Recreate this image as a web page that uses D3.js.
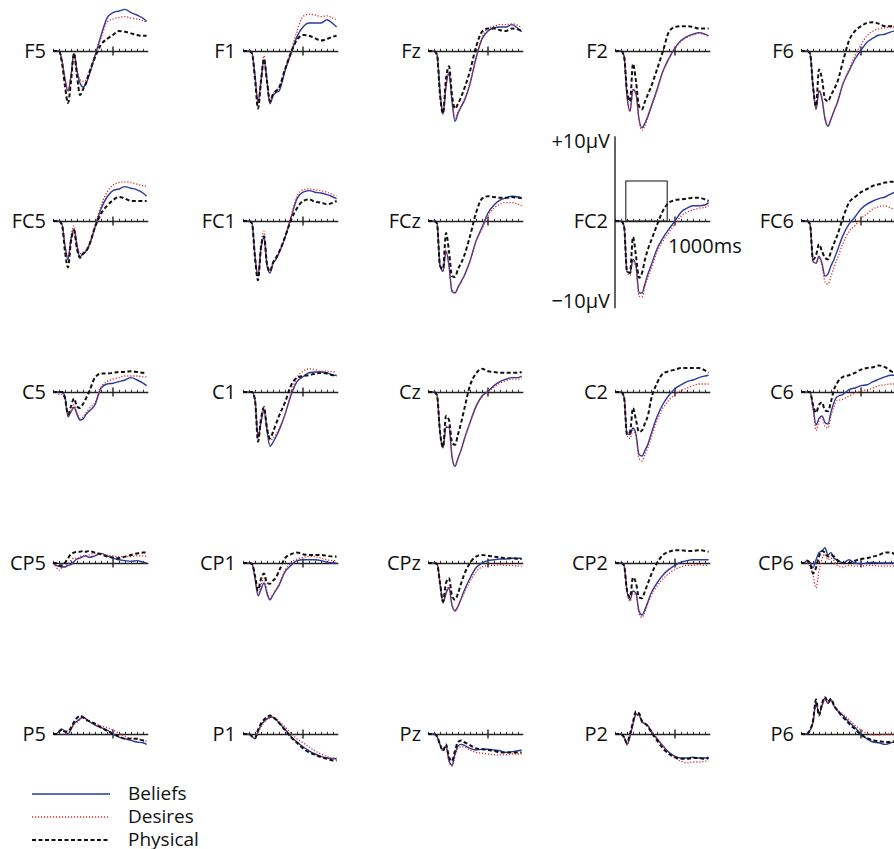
<!DOCTYPE html>
<html>
<head>
<meta charset="utf-8">
<script src="https://cdn.jsdelivr.net/npm/d3@7"></script>
<style>
  body { margin: 0; background: #fff; }
  text { font-family: "Open Sans", sans-serif; font-size: 20px; fill: #111; }
  .legend text { font-size: 19px; }
</style>
</head>
<body>
<svg id="chart" width="894" height="849"></svg>
<script>
// electrode names, row by row
const channels = ["F5","F1","Fz","F2","F6",
                  "FC5","FC1","FCz","FC2","FC6",
                  "C5","C1","Cz","C2","C6",
                  "CP5","CP1","CPz","CP2","CP6",
                  "P5","P1","Pz","P2","P6"];

// sample times (ms)
const times = [0,50,100,150,200,250,300,350,400,450,500,550,600,700,800,900,1000,1100,1200,1300,1400,1500,1560];

// amplitudes in microvolts, one row per channel
const beliefs = [
  [0,0,0,-1.2,-3.5,-5,-3.1,-0.3,-2.5,-4,-4.5,-4.1,-3.1,-0.6,1.9,4.1,4.8,5,5.2,4.8,4.5,4.1,3.7],
  [0,0,0,-0.3,-3.1,-6.5,-3.8,-1.1,-3.8,-6.6,-5.6,-5.2,-5,-2.5,-0.3,1.8,3,3.5,3.5,3.5,3.9,3.4,3],
  [0,0,0,-0.4,-5,-7.9,-4.4,-2.8,-6.3,-8.8,-7.8,-7,-6.3,-4.1,-0.9,1.5,2.5,2.9,3,3,3.3,2.8,2.4],
  [0,0,0,-0.6,-5.6,-7.5,-4.8,-5.3,-8.5,-9.6,-9,-8.1,-7,-4.8,-2.5,-0.9,0.4,1.3,1.8,2.1,2.3,2.1,1.9],
  [0,0,0,-0.3,-4.4,-7.3,-5,-6,-8.5,-9.4,-8.5,-7.5,-6.6,-4.1,-2.5,-1,0.1,1.1,1.6,2,2.1,2.4,2.5],
  [0,0,0,-0.4,-3.1,-4.8,-2.3,-1,-3.1,-4.5,-4.1,-3.8,-3.1,-0.8,1.5,3,3.8,4,4.3,4.1,3.9,3.5,3.1],
  [0,0,0,-0.3,-4.4,-6.9,-3.5,-2,-5.6,-6.5,-5.3,-4.8,-4,-2.1,0.4,2.8,3.6,3.8,3.6,3.5,3.3,3,2.8],
  [0,0,0,-0.3,-5.6,-6.3,-3.8,-5.6,-8.8,-9,-8.3,-7.6,-6.9,-5,-2.5,-0.8,1,2,2.6,2.9,3.1,3,2.8],
  [0,0,0,-0.6,-6.3,-6.5,-4.8,-5.6,-9,-9,-7.8,-6.6,-5.6,-3.5,-2.1,-1,0,1.1,1.6,1.9,1.9,2,2.3],
  [0,0,0,-0.4,-5,-5.3,-4.4,-5.3,-6.9,-6.6,-5.6,-4.8,-3.8,-1.8,-0.4,0.5,1.5,2.1,2.5,2.8,3,3.4,3.6],
  [0,0,0,0,-0.6,-3.1,-2.5,-1.9,-2.8,-3.5,-3.4,-2.8,-2.4,-1.6,0.5,1,1.1,1.3,1.5,1.8,1.5,1.1,0.8],
  [0,0,0,0,-1,-5.6,-3.8,-2.3,-4.8,-6.8,-6.3,-5.6,-4.8,-2.8,-0.4,1.3,1.9,2.4,2.5,2.5,2.4,2.1,2.1],
  [0,0,0,-0.4,-5,-7,-4.4,-4.4,-8.1,-9.3,-8.3,-7.3,-6,-3.8,-1.8,-0.5,0.1,0.8,1.3,1.6,1.8,1.8,2],
  [0,0,0,-0.6,-5.3,-5.3,-4.5,-5.3,-7.8,-8,-7.3,-6.5,-5.3,-3.1,-1.5,-0.4,0.4,0.9,1.3,1.5,1.8,2,2.1],
  [0,0,0,0,-1.9,-4.1,-3.3,-3,-3.8,-4,-2.5,-1.3,-0.6,-0.3,0.3,0.5,0.8,0.9,1.3,1.6,1.9,2.1,2.1],
  [0,-0.3,-0.4,-0.5,-0.5,-0.3,-0.2,0.2,0.5,0.6,0.8,0.9,0.7,0.9,1.2,0.9,0.6,0.4,0.3,0.2,0.3,0.1,0],
  [0,0,0,-0.1,-1.9,-4.1,-3.3,-2.5,-3.8,-4.6,-4,-3.4,-2.8,-1.1,-0.3,0.3,0.4,0.4,0.4,0.3,0.1,0,0],
  [0,0,0,-0.1,-2.5,-5,-3.8,-3.1,-5.3,-6,-5.4,-4.5,-3.5,-1.9,-0.6,0,0.3,0.4,0.5,0.5,0.6,0.6,0.6],
  [0,0,0,-0.3,-3.5,-4.6,-3.5,-3.8,-6,-6.5,-5.8,-4.8,-3.8,-2.5,-1.5,-0.8,-0.3,0.1,0.3,0.4,0.4,0.4,0.4],
  [0,0,0.3,0,-0.6,0.4,1.3,1.5,1.9,1,1.3,0.6,0.4,0,0.4,0,-0.1,0,0.1,0,0,0,0],
  [0,0,0.3,0.6,0.3,0,0.6,1.3,1.6,1.9,2.1,1.9,1.6,1.1,0.8,0.5,0,-0.4,-0.6,-0.8,-1,-1.1,-1.3],
  [0,0,0,-0.3,-0.6,0.3,1.1,1.6,1.9,2.1,2.1,1.8,1.4,0.6,-0.3,-1,-1.6,-2.1,-2.5,-2.8,-3,-3.1,-3.1],
  [0,0,0,-0.3,-1.3,-2,-1.5,-3.3,-3.9,-2.5,-1.5,-1.3,-1.4,-1.8,-2,-1.9,-1.9,-2,-2.1,-2.3,-2.2,-2.1,-2],
  [0,0,0,-0.4,-1.3,-0.3,1.3,2.5,2.4,1.5,1.3,1,0.4,-0.6,-1.5,-2.3,-2.8,-3,-3,-2.9,-3,-3,-2.9],
  [0,0,0,0.5,1.5,4,2.5,3.6,4.5,3.8,4.3,3.5,3,2.3,1.5,0.8,0,-0.6,-1,-1.1,-1.3,-1.1,-1]
];

const desires = [
  [0,0,0,-1.2,-3.5,-5,-3,-0.2,-2.3,-3.6,-3.8,-3.6,-2.8,-0.4,1.6,3.6,4,4.2,4.3,4.1,4,3.8,3.6],
  [0,0,0,-0.3,-3,-6.3,-3.3,-0.6,-3.5,-6.3,-5.4,-5,-4.6,-2.2,0,2.5,4.3,4.6,4.5,4.3,4.4,4.1,3.9],
  [0,0,0,-0.4,-5,-7.6,-4.2,-2.6,-6,-8.4,-7.6,-6.9,-6.1,-4,-0.8,1.7,2.8,3.1,3.3,3.3,3.4,3.2,2.9],
  [0,0,0,-0.6,-5.6,-7.6,-4.9,-5.4,-8.7,-9.9,-9.3,-8.3,-7.2,-5,-2.6,-1,0.3,1.2,1.7,2,2.2,2,1.8],
  [0,0,0,-0.3,-4.4,-7.1,-4.9,-5.8,-8.3,-9.3,-8.5,-7.5,-6.5,-4,-2.3,-0.6,0.8,1.9,2.5,2.8,2.9,3,3],
  [0,0,0,-0.4,-3,-4.5,-1.9,-0.6,-2.8,-4.1,-3.9,-3.6,-2.9,-0.5,1.9,3.6,4.5,4.8,4.9,4.8,4.6,4.4,4.3],
  [0,0,0,-0.3,-4.3,-6.7,-2.9,-1.3,-5.1,-6.3,-5.2,-4.7,-3.9,-1.9,0.6,3.1,3.9,4,3.9,3.8,3.6,3.3,3.1],
  [0,0,0,-0.3,-5.5,-6.2,-3.6,-5.4,-8.6,-8.9,-8.3,-7.6,-6.9,-5.1,-2.6,-1,0.7,1.6,2.1,2.3,2.3,2.1,1.9],
  [0,0,0,-0.6,-6.4,-6.8,-5,-5.8,-9.4,-9.5,-8.2,-7,-6,-3.9,-2.5,-1.4,-0.4,0.6,1.1,1.4,1.6,1.7,1.9],
  [0,0,0,-0.4,-5.1,-5.3,-4.5,-5.6,-7.6,-7.9,-6.9,-5.8,-4.8,-2.8,-1.3,-0.6,0.3,0.9,1.5,1.8,1.9,1.6,1.5],
  [0,0,-0.3,-0.3,-0.8,-3,-2.4,-1.6,-2.6,-3.3,-3.1,-2.6,-2.1,-1.3,0.6,1.3,1.6,1.8,2,2,2,1.9,1.9],
  [0,0,0,0,-1,-5.5,-3.4,-1.8,-4.1,-6,-5.8,-5.3,-4.6,-2.8,-0.1,1.8,2.6,2.9,2.8,2.6,2.6,2.5,2.5],
  [0,0,0,-0.4,-5,-6.9,-4.3,-4.3,-8,-9.2,-8.3,-7.3,-6.1,-3.9,-1.9,-0.6,0,0.6,1.1,1.4,1.6,1.6,1.8],
  [0,0,0,-0.6,-5.5,-5.8,-4.8,-5.6,-8.3,-8.6,-7.8,-6.9,-5.8,-3.6,-2,-1,-0.3,0.2,0.5,0.8,1,1,1],
  [0,0,0,0,-2,-4.8,-3.6,-3.1,-4.3,-4.5,-3,-1.8,-1.1,-0.9,-0.5,-0.1,0.1,0.3,0.5,0.8,0.9,1,1],
  [0,-0.5,-0.9,-0.6,-0.4,-0.1,0.3,0.6,0.5,0.8,0.9,0.8,1,1.2,1.1,1,0.9,0.8,0.8,0.8,0.9,0.9,0.8],
  [0,0,0,-0.1,-1.8,-3.9,-2.8,-1.9,-3.5,-4.4,-3.9,-3.3,-2.6,-0.9,0,0.5,0.7,0.8,0.8,0.6,0.4,0.3,0.3],
  [0,0,0,-0.1,-2.5,-4.9,-3.6,-3,-5.1,-5.9,-5.4,-4.6,-3.8,-2.3,-1.1,-0.5,-0.3,-0.3,-0.2,-0.3,-0.3,-0.4,-0.4],
  [0,0,0,-0.3,-3.6,-4.8,-3.8,-4,-6.3,-6.8,-6.1,-5.1,-4.1,-2.9,-2,-1.3,-0.8,-0.5,-0.3,-0.3,-0.2,-0.3,-0.3],
  [0,0,0,-0.5,-1.5,-3.1,-1,0.5,1.1,0.4,0.6,0.3,-0.3,-0.5,-0.3,-0.4,-0.4,-0.3,-0.3,-0.4,-0.4,-0.4,-0.4],
  [0,0,0.3,0.5,0.1,-0.1,0.5,1.1,1.4,1.8,2,1.8,1.6,1.3,1,0.8,0.5,0.1,-0.3,-0.5,-0.6,-0.8,-0.9],
  [0,0,0,-0.3,-0.6,0.1,0.9,1.4,1.8,2,2.1,1.9,1.6,0.9,0.1,-0.6,-1.1,-1.6,-2.1,-2.5,-2.8,-3,-3],
  [0,0,0,-0.3,-1.4,-2.1,-1.6,-3.5,-4,-2.8,-1.8,-1.6,-1.6,-2,-2.3,-2.4,-2.5,-2.6,-2.6,-2.6,-2.5,-2.5,-2.5],
  [0,0,0,-0.4,-1.4,-0.4,1.1,2.3,2.3,1.5,1.3,1,0.5,-0.5,-1.5,-2.3,-3,-3.4,-3.6,-3.5,-3.5,-3.4,-3.4],
  [0,0,0,0.4,1.4,3.8,2.5,3.4,4.3,3.8,4.1,3.6,3.1,2.5,1.8,1.1,0.5,0.1,-0.1,-0.1,0,0,0]
];

const physical = [
  [0,0,0,-1.5,-4.4,-6.5,-3.8,-0.3,-3.1,-5.5,-4.8,-4,-2.8,-0.8,0.8,1.5,2,2.5,2.4,2.2,2,1.9,1.9],
  [0,0,0,-0.3,-3.5,-7.2,-3.8,-1,-3.8,-6.3,-5.4,-5,-4.6,-2.3,-0.2,1.4,2,1.9,1.6,1.3,1.5,1.8,1.9],
  [0,0,0,-0.5,-5.5,-7.8,-3.5,-1.9,-5.5,-7.2,-6.6,-5.8,-4.8,-2.5,0.5,2.4,2.8,2.8,2.6,2.5,2.8,2.7,2.5],
  [0,0,0,-0.6,-5,-6.3,-1.6,-3.8,-6.9,-7.3,-6.3,-5.4,-4.5,-2.3,0,2.4,3,3.1,3.1,3,2.8,2.8,2.8],
  [0,0,0,-0.3,-4.4,-6.9,-2.3,-3.5,-6,-6.3,-5.5,-4.8,-4,-1.3,1.3,2.5,3.1,3.5,3.6,3.4,3.1,3.1,3.1],
  [0,0,0,-0.5,-3.8,-5.8,-2.5,-1.2,-3.5,-4.6,-4.1,-3.8,-3.1,-0.8,0.9,1.9,2.6,3,2.8,2.5,2.5,2.5,2.5],
  [0,0,0,-0.3,-4.6,-7.4,-3.3,-1.9,-5.4,-6.3,-5.2,-4.6,-3.9,-2,0.1,1.6,2.5,2.7,2.4,2.3,2.1,2.3,2.5],
  [0,0,0,-0.3,-5.6,-6,-1.5,-3.8,-6.9,-7,-6,-5.3,-4.4,-1.9,1,2.8,3.1,3,2.9,2.9,3,2.9,2.9],
  [0,0,0,-0.6,-6.3,-6.5,-2,-4.4,-7.1,-6.5,-4.8,-3.5,-2.5,-0.5,1.3,2.3,2.6,2.7,2.8,2.9,2.9,2.7,2.5],
  [0,0,0,-0.4,-4.8,-4.3,-2.9,-3.8,-4.6,-4.8,-3.8,-2.8,-1.9,0.4,2.3,3,3.6,4,4.4,4.6,4.8,4.9,4.9],
  [0,0,0,0,-0.8,-2.8,-1.8,-0.8,-1.8,-2,-1.5,-0.8,0,1.8,2.3,2.3,2.4,2.5,2.5,2.6,2.5,2.4,2.3],
  [0,0,0,0,-1,-6.2,-3.4,-1.9,-4.6,-5.8,-5,-4,-3,-1.3,0.8,1.8,2,2.1,2.3,2.4,2.3,2.1,2],
  [0,0,0,-0.4,-5,-6.9,-3,-3.5,-6.3,-6.6,-5.3,-3.9,-2.3,0.8,2.3,2.9,2.6,2.5,2.4,2.4,2.4,2.4,2.5],
  [0,0,0,-0.6,-5.3,-5,-2,-3.5,-5,-4.8,-3.9,-2.9,-1,1.1,2.3,2.6,2.8,3,3,3,3,2.7,2.4],
  [0,0,0,0,-1.6,-2.6,-1.6,-1.3,-2.3,-2.4,-1.2,0.3,1.1,1.9,2.1,2.4,2.8,3,3.1,3.3,3.1,2.6,2.4],
  [0,0,-0.3,-0.3,0,0.6,1.1,1.3,1.4,1.4,1.5,1.4,1.5,1.3,1.1,0.8,0.7,0.6,0.8,1,1.2,1.3,1.3],
  [0,0,0,-0.1,-1.6,-3.4,-2,-1.3,-2.5,-2.6,-2.2,-1.8,-1,0.6,1.1,1.3,1.1,1,1,1,0.9,0.8,0.8],
  [0,0,0,-0.1,-2.5,-4.8,-2.5,-1.9,-4.1,-4.6,-3.8,-2.6,-1.5,0,0.8,1,0.9,0.8,0.7,0.6,0.6,0.5,0.5],
  [0,0,0,-0.3,-3.4,-4.3,-1.8,-2.5,-4.3,-4.4,-3.5,-2.5,-1.5,0,1,1.4,1.6,1.6,1.5,1.5,1.6,1.5,1.4],
  [0,0,0.3,0,-1.3,-0.6,0.8,1.5,1.3,0.8,1,0.8,0.4,0,0,0.3,0.5,0.6,0.8,1,1.3,1.3,1.1],
  [0,0,0.3,0.6,0.3,0.3,0.8,1.5,2,2.3,2.1,1.8,1.6,1.3,0.8,0.4,0,-0.3,-0.6,-0.6,-0.6,-0.8,-0.8],
  [0,0,0,-0.3,-0.5,0.5,1.3,1.8,2.1,2.3,2.1,1.8,1.4,0.5,-0.4,-1.1,-1.8,-2.3,-2.6,-2.9,-3.1,-3.3,-3.3],
  [0,0,0,-0.3,-1.3,-2.1,-1.3,-2.9,-3.4,-2.1,-1,-0.8,-1,-1.4,-1.8,-1.9,-2,-2.1,-2.3,-2.3,-2.3,-2.3,-2.3],
  [0,0,0,-0.4,-1.1,0,1.5,2.8,2.6,1.6,1.3,0.9,0.3,-0.8,-1.8,-2.5,-2.9,-3.1,-3.1,-3,-3,-3.1,-3],
  [0,0,0,0.5,1.6,4.3,2.3,3.8,4.6,4,4.4,3.6,3,2.1,1.3,0.6,-0.1,-0.5,-0.8,-0.9,-1,-1,-0.9]
];

const conditions = ["Beliefs", "Desires", "Physical"];
const minorTicks = [0,100,200,300,400,500,600,700,800,900,1100,1200,1300,1400,1500];
const majorTick = 1000;
const scaleLimits = [10, -10];      // microvolt calibration bar
const windowBox = [180, 870, 5];    // ms start, ms end, microvolts
const scaleChannel = "FC2";

// layout
const colX = [53, 243, 428, 615, 801];
const rowY = [51, 221, 392, 563, 734];

const styles = [
  { stroke: "#2b3a9c", width: 1.4, dash: null },
  { stroke: "#dd2b2b", width: 1.3, dash: "1.2,1.8" },
  { stroke: "#111",    width: 2,   dash: "4,2.5" }
];

const svg = d3.select("#chart");
const x = d3.scaleLinear().domain([0, 1580]).range([0, 94.8]);
const y = d3.scaleLinear().domain([-10, 10]).range([80, -80]);

const line = d3.line()
  .x((d, i) => x(times[i]))
  .y(d => y(d))
  .curve(d3.curveMonotoneX);

channels.forEach((name, k) => {
  const g = svg.append("g")
    .attr("transform", `translate(${colX[k % 5]},${rowY[Math.floor(k / 5)]})`);

  g.append("text")
    .attr("x", -7).attr("y", 7)
    .attr("text-anchor", "end")
    .text(name);

  const ax = g.append("g")
    .call(d3.axisBottom(x).tickValues(minorTicks).tickSize(-2.2).tickSizeOuter(0).tickFormat(""));
  ax.select(".domain").attr("stroke", "#222").attr("stroke-width", 1.3);
  ax.selectAll(".tick line").attr("stroke", "#333").attr("stroke-width", 1);

  g.append("line")
    .attr("x1", x(majorTick)).attr("x2", x(majorTick))
    .attr("y1", -4.5).attr("y2", 4.5)
    .attr("stroke", "#222").attr("stroke-width", 1.4);

  if (name === scaleChannel) {
    g.append("line")
      .attr("x1", 0).attr("x2", 0)
      .attr("y1", y(scaleLimits[0] + 0.6)).attr("y2", y(scaleLimits[1] - 0.9))
      .attr("stroke", "#222").attr("stroke-width", 1.4);
    g.append("text").attr("x", -5).attr("y", y(scaleLimits[0]) + 7)
      .attr("text-anchor", "end").text("+10\u00b5V");
    g.append("text").attr("x", -5).attr("y", y(scaleLimits[1]) + 7)
      .attr("text-anchor", "end").text("\u221210\u00b5V");
    g.append("rect")
      .attr("x", x(windowBox[0])).attr("y", y(windowBox[2]))
      .attr("width", x(windowBox[1]) - x(windowBox[0]))
      .attr("height", y(0) - y(windowBox[2]))
      .attr("fill", "none").attr("stroke", "#222").attr("stroke-width", 1.1);
    g.append("text").attr("x", x(majorTick) - 7).attr("y", 32).text("1000ms");
  }

  [beliefs, desires, physical].forEach((series, s) => {
    g.append("path")
      .datum(series[k])
      .attr("d", line)
      .attr("fill", "none")
      .attr("stroke", styles[s].stroke)
      .attr("stroke-width", styles[s].width)
      .attr("stroke-dasharray", styles[s].dash);
  });
});

// legend
const legend = svg.append("g").attr("class", "legend").attr("transform", "translate(32,794)");
conditions.forEach((c, i) => {
  legend.append("line")
    .attr("x1", 0).attr("x2", 78)
    .attr("y1", i * 23).attr("y2", i * 23)
    .attr("stroke", styles[i].stroke)
    .attr("stroke-width", styles[i].width)
    .attr("stroke-dasharray", styles[i].dash);
  legend.append("text")
    .attr("x", 96).attr("y", i * 23 + 6)
    .text(c);
});
</script>
</body>
</html>
